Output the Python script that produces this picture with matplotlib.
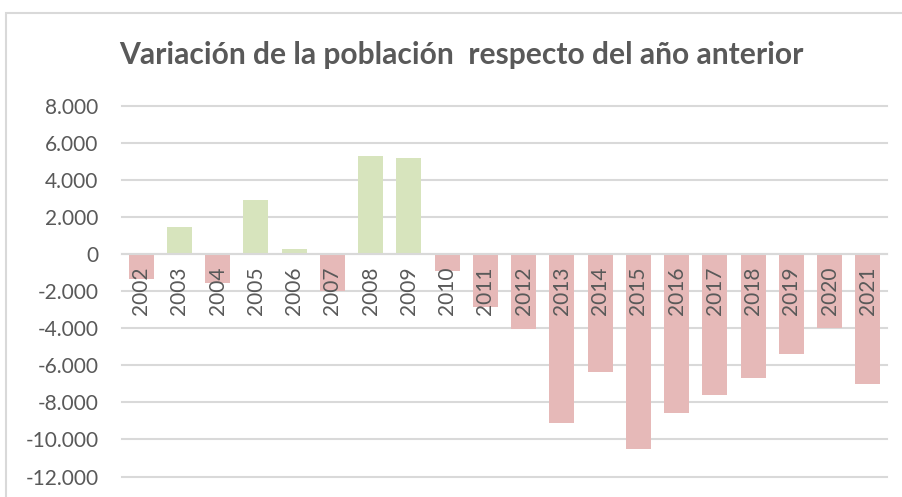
import matplotlib
matplotlib.use("Agg")
import matplotlib.pyplot as plt
from matplotlib.patches import Rectangle
from matplotlib.ticker import FuncFormatter

# Data
years = ["2002", "2003", "2004", "2005", "2006", "2007", "2008", "2009", "2010", "2011",
         "2012", "2013", "2014", "2015", "2016", "2017", "2018", "2019", "2020", "2021"]
variation = [-1330, 1440, -1580, 2890, 250, -1990, 5300, 5170, -900, -2840,
             -4060, -9130, -6340, -10510, -8570, -7600, -6700, -5390, -3990, -6990]
yticks = [-12000, -10000, -8000, -6000, -4000, -2000, 0, 2000, 4000, 6000, 8000]

green = "#D7E4BD"
pink = "#E6B9B8"
grey_text = "#595959"
grid_col = "#D9D9D9"

plt.rcParams['font.family'] = ['Lato', 'DejaVu Sans']

W, H = 903, 497
fig = plt.figure(figsize=(W / 100, H / 100), dpi=100)

# chart area border
fig.patches.append(Rectangle((6 / W, -0.1), 1.2, 1 - 13 / H + 0.1, transform=fig.transFigure,
                             fill=False, edgecolor=grid_col, lw=1.5))

ax = fig.add_axes([122 / W, 1 - 476.6 / H, 765 / W, (476.6 - 105.5) / H])

# gridlines behind the bars, tick labels on top of them
for t in yticks:
    ax.axhline(t, color=grid_col, lw=1.5, zorder=0, clip_on=False)

colors = [green if v > 0 else pink for v in variation]
ax.bar(range(len(years)), variation, width=0.65, color=colors, zorder=1)

for s in ['top', 'right', 'left']:
    ax.spines[s].set_visible(False)
ax.spines['bottom'].set_position(('data', 0))
ax.spines['bottom'].set_color(grid_col)
ax.spines['bottom'].set_linewidth(1.5)
ax.spines['bottom'].set_zorder(3)

ax.set_xlim(-0.5, len(years) - 0.5)
ax.set_ylim(min(yticks), max(yticks))
ax.set_yticks(yticks)
ax.yaxis.set_major_formatter(FuncFormatter(lambda v, p: f"{int(v):,}".replace(",", ".")))

ax.set_xticks(range(len(years)))
ax.set_xticklabels(years)

ax.tick_params(axis='x', length=0, pad=9, labelsize=15, labelcolor=grey_text, labelrotation=90)
ax.tick_params(axis='y', length=0, pad=17, labelsize=15, labelcolor=grey_text)

fig.text(461 / W, 1 - 55 / H, "Variación de la población  respecto del año anterior",
         ha='center', va='center', fontsize=21.6, fontweight='bold', color=grey_text)

fig.savefig("out.png", dpi=100)
